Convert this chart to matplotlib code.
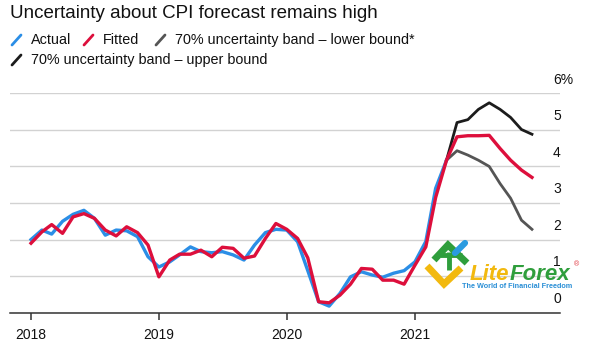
import numpy as np
import pandas as pd
import matplotlib
matplotlib.use("Agg")
import matplotlib.pyplot as plt
import matplotlib.dates as mdates
from matplotlib.lines import Line2D

plt.rcParams['font.family'] = ['Liberation Sans', 'DejaVu Sans']

# ---------------- data ----------------
title = "Uncertainty about CPI forecast remains high"
legend_labels = ["Actual", "Fitted", "70% uncertainty band – lower bound*",
                 "70% uncertainty band – upper bound"]

actual = [2.0, 2.26, 2.15, 2.5, 2.69, 2.8, 2.58, 2.12, 2.26, 2.24, 2.08, 1.53,
          1.25, 1.39, 1.58, 1.8, 1.67, 1.64, 1.67, 1.58, 1.44, 1.85, 2.19, 2.28,
          2.26, 1.94, 1.15, 0.3, 0.18, 0.53, 0.98, 1.12, 1.03, 0.97, 1.08, 1.15,
          1.39, 1.95, 3.4, 4.17]
fitted = [1.9, 2.21, 2.41, 2.17, 2.62, 2.71, 2.58, 2.26, 2.1, 2.35, 2.19, 1.85,
          0.98, 1.44, 1.6, 1.6, 1.71, 1.53, 1.79, 1.76, 1.49, 1.55, 2.03, 2.44,
          2.28, 2.03, 1.5, 0.3, 0.27, 0.48, 0.78, 1.21, 1.19, 0.89, 0.89, 0.78,
          1.3, 1.8, 3.15, 4.17, 4.81, 4.84, 4.84, 4.85, 4.49, 4.17, 3.9, 3.7]
lower = [4.17, 4.43, 4.31, 4.17, 4.0, 3.53, 3.13, 2.53, 2.28]
upper = [4.17, 5.2, 5.28, 5.56, 5.74, 5.56, 5.34, 5.01, 4.88]

start = "2018-01-01"
band_start = "2021-04-01"
y_ticks = [0, 1, 2, 3, 4, 5, 6]
year_ticks = ["2018", "2019", "2020", "2021"]

colors = {"actual": "#2b8ee6", "fitted": "#dd0f3c", "lower": "#555555", "upper": "#1c1c1c"}

# ---------------- figure ----------------
W, H = 590, 351
fig = plt.figure(figsize=(W / 100, H / 100), dpi=100)
ax = fig.add_axes([10 / W, (H - 312.7) / H, 550 / W, (312.7 - 93.3) / H])

d_act = pd.date_range(start, periods=len(actual), freq="MS")
d_fit = pd.date_range(start, periods=len(fitted), freq="MS")
d_band = pd.date_range(band_start, periods=len(lower), freq="MS")

ax.plot(d_band, lower, color=colors["lower"], lw=2.0, solid_joinstyle="round", zorder=3)
ax.plot(d_band, upper, color=colors["upper"], lw=2.0, solid_joinstyle="round", zorder=3)
ax.plot(d_act, actual, color=colors["actual"], lw=2.4, solid_joinstyle="round", zorder=4)
ax.plot(d_fit, fitted, color=colors["fitted"], lw=2.4, solid_joinstyle="round", zorder=5)

t0 = pd.Timestamp(start)
ax.set_xlim(t0 - pd.Timedelta(days=60), t0 + pd.Timedelta(days=1510))
ax.set_ylim(0, 6)

for s in ["top", "right", "left"]:
    ax.spines[s].set_visible(False)
ax.spines["bottom"].set_color("#333333")
ax.spines["bottom"].set_linewidth(1.1)

ax.set_yticks(y_ticks)
ax.yaxis.grid(True, color="#d2d2d2", lw=1.0)
ax.set_axisbelow(True)
ax.tick_params(axis="y", left=False, labelleft=False)

ax.set_xticks([pd.Timestamp(f"{y}-01-01") for y in year_ticks])
ax.set_xticklabels(year_ticks)
ax.tick_params(axis="x", length=5, width=1.1, color="#333333", pad=6,
               labelsize=10, labelcolor="#111111")

for v in y_ticks:
    lab = f"{v}%" if v == max(y_ticks) else f"{v}"
    ax.annotate(lab, xy=(543 / 550, v), xycoords=("axes fraction", "data"),
                xytext=(0, 7), textcoords="offset points", ha="left", va="baseline",
                fontsize=10, color="#111111", annotation_clip=False, zorder=6)

# title
fig.text(10 / W, 1 - 13 / H, title, fontsize=13.5, color="#111111", va="center", ha="left")

# legend (manual)
def fx(px):
    return px / W

def fy(py):
    return 1 - py / H

leg_items = [
    (legend_labels[0], colors["actual"], 12, 40),
    (legend_labels[1], colors["fitted"], 84, 40),
    (legend_labels[2], colors["lower"], 156, 40),
    (legend_labels[3], colors["upper"], 12, 60),
]
for lab, col, x0, yc in leg_items:
    fig.add_artist(Line2D([fx(x0), fx(x0 + 9)], [fy(yc + 5), fy(yc - 5)],
                          color=col, lw=2.0, solid_capstyle="round"))
    fig.text(fx(x0 + 19), fy(yc), lab, fontsize=10.4, color="#111111",
             va="center", ha="left")

# watermark (LiteForex)
wm_yellow, wm_green, wm_blue = "#f2b90f", "#2f9e3c", "#2a9be0"
fig.add_artist(Line2D([fx(427), fx(444), fx(461)], [fy(266), fy(284), fy(268)],
                      color=wm_yellow, lw=5.0, solid_capstyle="butt", solid_joinstyle="miter"))
fig.add_artist(Line2D([fx(434), fx(448), fx(467)], [fy(260), fy(245), fy(263)],
                      color=wm_green, lw=5.0, solid_capstyle="butt", solid_joinstyle="miter"))
fig.add_artist(Line2D([fx(440), fx(462)], [fy(255), fy(255)],
                      color=wm_green, lw=3.5, solid_capstyle="butt"))
fig.add_artist(Line2D([fx(449), fx(449)], [fy(252), fy(270)],
                      color=wm_green, lw=3.5, solid_capstyle="butt"))
fig.add_artist(Line2D([fx(455), fx(465)], [fy(253), fy(243)],
                      color=wm_blue, lw=4.5, solid_capstyle="round"))
t_lite = fig.text(fx(470), fy(280), "Lite", fontsize=16, fontweight="bold", style="italic",
                  color=wm_yellow, ha="left", va="baseline")
ax.annotate("Forex", xy=(1, 0), xycoords=t_lite, xytext=(0, 0), textcoords="offset points",
            fontsize=16, fontweight="bold", style="italic", color=wm_green,
            ha="left", va="bottom", annotation_clip=False)
fig.text(fx(462), fy(287), "The World of Financial Freedom", fontsize=5.2,
         fontweight="bold", color="#2a8fd6", ha="left", va="center")
fig.text(fx(577), fy(265), "®", fontsize=5, color="#e0303a", ha="center", va="center")

fig.savefig("out.png", dpi=100, facecolor="white")
